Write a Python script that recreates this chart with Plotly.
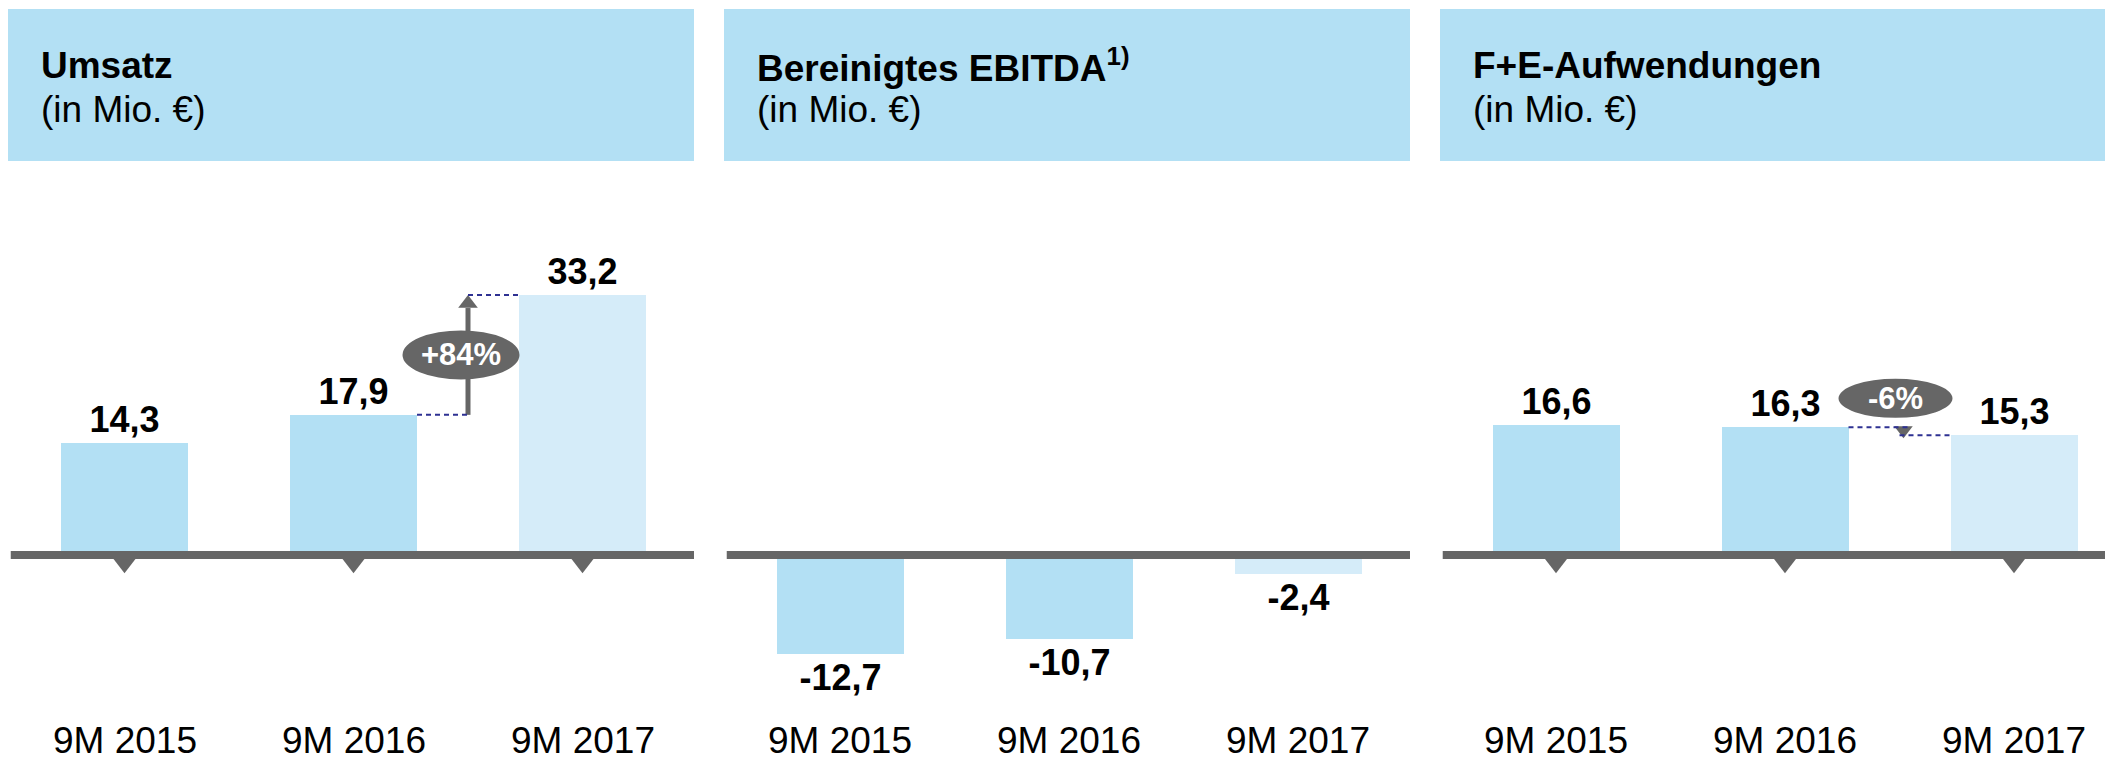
import plotly.graph_objects as go

# ---------------- data ----------------
categories = ["9M 2015", "9M 2016", "9M 2017"]
umsatz = [14.3, 17.9, 33.2]
ebitda = [-12.7, -10.7, -2.4]
fe = [16.6, 16.3, 15.3]

titles = ["Umsatz", "Bereinigtes EBITDA<sup>1)</sup>", "F+E-Aufwendungen"]
subtitle = "(in Mio. €)"
change_umsatz = "+84%"
change_fe = "-6%"

# ---------------- styling / geometry ----------------
W, H = 2113, 759
OFF = 8                  # page body margin (reference pixels -> figure pixels)
FONT = "Liberation Sans, Arial, sans-serif"
HEADER_BLUE = "#B3E0F4"
BAR_DARK = "#B3E0F4"
BAR_LIGHT = "#D5ECF9"
GRAY = "#666666"
NAVY = "#2E3192"

ZERO_PY = 555.0 - OFF    # pixel row of the zero line
PX_PER_UNIT = 7.83       # vertical pixels per Mio. €
CAT_SPACING = 229.0      # pixels between bar centres
BAR_PX = 127.0
BAR_W = BAR_PX / CAT_SPACING

panel_px = [(8 - OFF, 694 - OFF), (724 - OFF, 1410 - OFF), (1440 - OFF, 2126 - OFF)]
first_center_px = [124.5 - OFF, 840.0 - OFF, 1556.0 - OFF]
header_top, header_bottom = 9 - OFF, 161 - OFF

y_range = [-(H - ZERO_PY) / PX_PER_UNIT, ZERO_PY / PX_PER_UNIT]
xi = list(range(len(categories)))


def u(px):
    return px / PX_PER_UNIT


def fmt(v):
    return f"{v:.1f}".replace(".", ",")


fig = go.Figure()

series = [umsatz, ebitda, fe]
axis_names = [("x", "y"), ("x2", "y2"), ("x3", "y3")]
bar_colors = [BAR_DARK, BAR_DARK, BAR_LIGHT]

for i, vals in enumerate(series):
    xa, ya = axis_names[i]
    fig.add_trace(go.Bar(
        x=xi, y=vals, xaxis=xa, yaxis=ya,
        width=BAR_W,
        marker=dict(color=bar_colors, line=dict(width=0)),
        text=[f"<b>{fmt(v)}</b>" for v in vals],
        textposition="outside",
        textfont=dict(family=FONT, size=36, color="black"),
        cliponaxis=False,
        showlegend=False,
        hoverinfo="skip",
    ))

# triangles under the axis (panels 1 and 3)
TRI_SIZE = 19
tri_center_y = -u(4 + TRI_SIZE / 4)
for i in (0, 2):
    xa, ya = axis_names[i]
    fig.add_trace(go.Scatter(
        x=xi, y=[tri_center_y] * len(xi), xaxis=xa, yaxis=ya,
        mode="markers",
        marker=dict(symbol="triangle-down", size=TRI_SIZE, color=GRAY, line=dict(width=0)),
        showlegend=False, hoverinfo="skip", cliponaxis=False,
    ))

shapes = []
annotations = []

# header boxes, titles
for i, (l, r) in enumerate(panel_px):
    shapes.append(dict(type="rect", xref="paper", yref="paper",
                       x0=l / W, x1=min(r, W) / W,
                       y0=1 - header_bottom / H, y1=1 - header_top / H,
                       fillcolor=HEADER_BLUE, line=dict(width=0), layer="below"))
    annotations.append(dict(xref="paper", yref="paper", x=(l + 31) / W, y=1 - (66 - OFF) / H,
                            xanchor="left", yanchor="middle", showarrow=False,
                            text=f"<b>{titles[i]}</b>",
                            font=dict(family=FONT, size=37, color="black")))
    annotations.append(dict(xref="paper", yref="paper", x=(l + 31) / W, y=1 - (109 - OFF) / H,
                            xanchor="left", yanchor="middle", showarrow=False,
                            text=subtitle,
                            font=dict(family=FONT, size=37, color="black")))

# zero lines and category labels
for i in range(3):
    xa, ya = axis_names[i]
    shapes.append(dict(type="line", xref=f"{xa} domain", yref=ya, x0=0.004, x1=1,
                       y0=0, y1=0, line=dict(color=GRAY, width=8), layer="above"))
    for k, c in enumerate(categories):
        annotations.append(dict(xref=xa, yref="paper", x=xi[k], y=1 - (740 - OFF) / H,
                                xanchor="center", yanchor="middle", showarrow=False,
                                text=c, font=dict(family=FONT, size=37, color="black")))

# ---- Umsatz growth arrow (+84%) ----
ax_mid = (xi[1] + xi[2]) / 2
y_from, y_to = umsatz[1], umsatz[2]
HEAD = 17
shapes.append(dict(type="line", xref="x", yref="y", x0=ax_mid, x1=ax_mid,
                   y0=y_from, y1=y_to - u(HEAD - 4),
                   line=dict(color=GRAY, width=5)))
fig.add_trace(go.Scatter(
    x=[ax_mid], y=[y_to - u(HEAD / 2)], xaxis="x", yaxis="y",
    mode="markers", marker=dict(symbol="triangle-up", size=HEAD, color=GRAY, line=dict(width=0)),
    showlegend=False, hoverinfo="skip", cliponaxis=False))
shapes.append(dict(type="line", xref="x", yref="y", x0=xi[1] + BAR_W / 2, x1=ax_mid,
                   y0=y_from, y1=y_from, line=dict(color=NAVY, width=2, dash="5px,4px")))
shapes.append(dict(type="line", xref="x", yref="y", x0=ax_mid, x1=xi[2] - BAR_W / 2,
                   y0=y_to, y1=y_to, line=dict(color=NAVY, width=2, dash="5px,4px")))
e_cx = ax_mid - 7 / CAT_SPACING
e_cy = (y_from + y_to) / 2
e_w, e_h = 117 / CAT_SPACING, u(49)
shapes.append(dict(type="circle", xref="x", yref="y",
                   x0=e_cx - e_w / 2, x1=e_cx + e_w / 2,
                   y0=e_cy - e_h / 2, y1=e_cy + e_h / 2,
                   fillcolor=GRAY, line=dict(width=0), layer="above"))
annotations.append(dict(xref="x", yref="y", x=e_cx, y=e_cy, showarrow=False,
                        xanchor="center", yanchor="middle",
                        text=f"<b>{change_umsatz}</b>",
                        font=dict(family=FONT, size=31, color="white")))

# ---- F+E change (-6%) ----
f_from, f_to = fe[1], fe[2]
shapes.append(dict(type="line", xref="x3", yref="y3", x0=xi[1] + BAR_W / 2, x1=ax_mid + 10 / CAT_SPACING,
                   y0=f_from, y1=f_from, line=dict(color=NAVY, width=2, dash="5px,4px")))
shapes.append(dict(type="line", xref="x3", yref="y3", x0=ax_mid, x1=xi[2] - BAR_W / 2,
                   y0=f_to, y1=f_to, line=dict(color=NAVY, width=2, dash="5px,4px")))
TRI2 = 16
fig.add_trace(go.Scatter(
    x=[ax_mid + 4 / CAT_SPACING], y=[f_to - u(3) + u(TRI2 / 2)],
    xaxis="x3", yaxis="y3",
    mode="markers", marker=dict(symbol="triangle-down", size=TRI2, color=GRAY, line=dict(width=0)),
    showlegend=False, hoverinfo="skip", cliponaxis=False))
e2_cx = ax_mid - 4 / CAT_SPACING
e2_cy = f_from + u(29)
e2_w, e2_h = 114 / CAT_SPACING, u(39)
shapes.append(dict(type="circle", xref="x3", yref="y3",
                   x0=e2_cx - e2_w / 2, x1=e2_cx + e2_w / 2,
                   y0=e2_cy - e2_h / 2, y1=e2_cy + e2_h / 2,
                   fillcolor=GRAY, line=dict(width=0), layer="above"))
annotations.append(dict(xref="x3", yref="y3", x=e2_cx, y=e2_cy, showarrow=False,
                        xanchor="center", yanchor="middle",
                        text=f"<b>{change_fe}</b>",
                        font=dict(family=FONT, size=31, color="white")))

layout_axes = {}
for i, (l, r) in enumerate(panel_px):
    xa, ya = axis_names[i]
    c0 = first_center_px[i]
    rr = min(r, W)
    xkey = "xaxis" if i == 0 else f"xaxis{i+1}"
    ykey = "yaxis" if i == 0 else f"yaxis{i+1}"
    layout_axes[xkey] = dict(domain=[l / W, rr / W],
                             range=[(l - c0) / CAT_SPACING, (rr - c0) / CAT_SPACING],
                             visible=False, fixedrange=True, anchor=ya)
    layout_axes[ykey] = dict(domain=[0, 1], range=y_range, visible=False, fixedrange=True,
                             anchor=xa)

fig.update_layout(
    width=W, height=H,
    margin=dict(l=0, r=0, t=0, b=0),
    paper_bgcolor="white", plot_bgcolor="rgba(0,0,0,0)",
    shapes=shapes, annotations=annotations,
    bargap=0, showlegend=False,
    font=dict(family=FONT),
    **layout_axes,
)

fig.write_html("out.html")
